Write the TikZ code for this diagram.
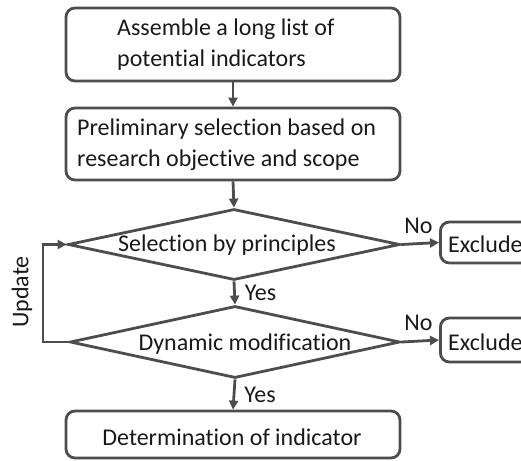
\documentclass[tikz,border=0pt]{standalone}
\usepackage{fontspec}
\setmainfont[Ligatures=NoCommon]{Carlito}
\usetikzlibrary{shapes.geometric,arrows.meta}
\definecolor{edgegray}{HTML}{4D4D4D}
\begin{document}
\begin{tikzpicture}[x=1pt,y=-1pt,
  every node/.style={font=\fontsize{24}{31}\selectfont, text=black!90},
  stepbox/.style={draw=edgegray, line width=2.8pt, rounded corners=9pt, inner sep=0pt},
  decision/.style={draw=edgegray, line width=2.8pt, diamond, inner sep=0pt},
  flow/.style={draw=edgegray, line width=2.8pt, -{Triangle[length=9pt,width=9pt]}},
  lbl/.style={inner sep=0pt}]
  \useasboundingbox (0,0) rectangle (521,460);
  \clip (0,0) rectangle (521,460);

  % process boxes
  \node[stepbox, minimum width=334pt, minimum height=73pt] (assemble) at (233,44.5) {};
  \node[lbl, align=left, anchor=west] (assembleT) at (117,45) {Assemble a long list of\\potential indicators};
  \node[stepbox, minimum width=334pt, minimum height=72pt] (prelim) at (233,144) {};
  \node[lbl, align=left, anchor=west] (prelimT) at (77,145) {Preliminary selection based on\\research objective and scope};

  % decisions
  \node[decision, minimum width=332pt, minimum height=71pt] (princ) at (234,244.5) {};
  \node[lbl] (princT) at (227,245) {Selection by principles};
  \node[decision, minimum width=330pt, minimum height=72pt] (dyn) at (235,342) {};
  \node[lbl] (dynT) at (245,344) {Dynamic modification};

  % final box
  \node[stepbox, minimum width=334pt, minimum height=47pt] (determ) at (233,434.5) {};
  \node[lbl] (determT) at (232,437) {Determination of indicator};

  % exclusion boxes
  \node[stepbox, minimum width=120pt, minimum height=41pt, anchor=west] (excl1) at (439,242.5) {};
  \node[lbl, anchor=west] (excl1T) at (448,244) {Exclude};
  \node[stepbox, minimum width=120pt, minimum height=44pt, anchor=west] (excl2) at (439,340) {};
  \node[lbl, anchor=west] (excl2T) at (448,342) {Exclude};

  % main flow
  \draw[flow] (assemble.south) -- (prelim.north);
  \draw[flow] (prelim.south) -- (princ.north);
  \draw[flow] (princ.south) -- (dyn.north) node[lbl, pos=0.5, anchor=west, xshift=9pt] (yes1) {Yes};
  \draw[flow] (dyn.south) -- (determ.north) node[lbl, pos=0.5, anchor=west, xshift=9pt] (yes2) {Yes};

  % exclusions
  \draw[flow] (princ.east) -- (excl1.west) node[lbl, pos=0.45, anchor=south, yshift=9pt] (no1) {No};
  \draw[flow] (dyn.east) -- (excl2.west) node[lbl, pos=0.45, anchor=south, yshift=9pt] (no2) {No};

  % update loop
  \coordinate (loopL) at (43,0);
  \draw[flow] (dyn.west) -- (dyn.west -| loopL) -- (princ.west -| loopL) -- (princ.west);
  \node[lbl, rotate=90] (update) at (22,292) {Update};
\end{tikzpicture}
\end{document}
